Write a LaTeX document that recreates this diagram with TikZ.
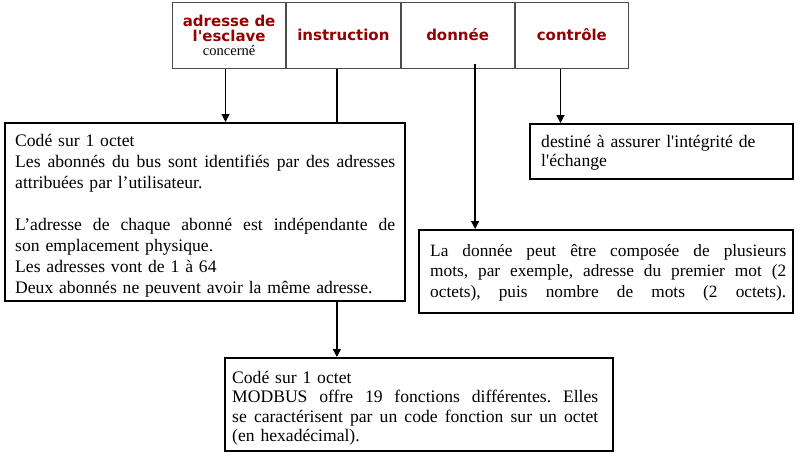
\documentclass[tikz,border=0pt]{standalone}
\usepackage{fontspec}
\usetikzlibrary{arrows.meta}
\newfontfamily\bodyfont{Liberation Serif}
\newfontfamily\labfont{DejaVu Sans}
\definecolor{labred}{RGB}{150,0,0}
\newcommand{\jl}[2]{\leavevmode\hbox to #1{\frenchspacing\spaceskip=\fontdimen2\font plus 1fil minus \fontdimen4\font\relax #2}}
\tikzset{
  cell/.style={draw=black!70, line width=1pt, minimum width=113.25pt, minimum height=66pt,
    anchor=north west, inner sep=0pt, align=center, text=labred,
    font=\labfont\bfseries\fontsize{15}{15}\selectfont},
  box/.style={draw=black, line width=1.6pt, anchor=north west, inner sep=0pt},
  txt/.style={anchor=north west, inner sep=0pt, align=left, text width=#1},
  arr/.style={line width=1.3pt, -{Triangle[length=8pt,width=8pt]}},
  ln/.style={line width=1.3pt}
}
\begin{document}
\begin{tikzpicture}[x=1pt,y=-1pt]
\useasboundingbox (0,0) rectangle (800,456);
% top frame
\node[cell] (c1) at (172,2) {adresse de\\l'esclave\\[-1pt]{\bodyfont\mdseries\fontsize{14.5}{15}\selectfont\color{black}concerné}};
\node[cell] (c2) at (c1.north east) {\raisebox{2pt}{instruction}};
\node[cell] (c3) at (c2.north east) {\raisebox{2pt}{donnée}};
\node[cell] (c4) at (c3.north east) {\raisebox{2pt}{contrôle}};
% texts
\node[txt=380pt, font=\bodyfont\fontsize{17.6}{21}\selectfont] (t1) at (15,146-14.7) {\strut Codé sur 1 octet\\
\jl{380pt}{Les abonnés du bus sont identifiés par des adresses}\\
attribuées par l’utilisateur.\\
\mbox{}\\
\jl{380pt}{L’adresse de chaque abonné est indépendante de}\\
son emplacement physique.\\
Les adresses vont de 1 à 64\\
Deux abonnés ne peuvent avoir la même adresse.};
\node[txt=245pt, font=\bodyfont\fontsize{17.6}{19.5}\selectfont] (t2) at (541,147-13.65) {\strut destiné à assurer l'intégrité de\\
l'échange};
\node[txt=356pt, font=\bodyfont\fontsize{17.3}{20.5}\selectfont] (t3) at (430,256-14.35) {\strut\jl{356pt}{La donnée peut être composée de plusieurs}\\
\jl{356pt}{mots, par exemple, adresse du premier mot (2}\\
\jl{356pt}{octets), puis nombre de mots (2 octets).}};
\node[txt=366pt, font=\bodyfont\fontsize{17.6}{19.5}\selectfont] (t4) at (232,383-13.65) {\strut Codé sur 1 octet\\
\jl{366pt}{MODBUS offre 19 fonctions différentes. Elles}\\
\jl{366pt}{se caractérisent par un code fonction sur un octet}\\
(en hexadécimal).};
% boxes
\node[box, minimum width=400pt, minimum height=178pt] (b1) at (4,122) {};
\node[box, minimum width=263pt, minimum height=55pt] (b2) at (529,123) {};
\node[box, minimum width=374pt, minimum height=83pt] (b3) at (418,229) {};
\node[box, minimum width=388pt, minimum height=93pt] (b4) at (224,357) {};
% connectors
\draw[arr] ([xshift=-3.6pt]c1.south) -- ([xshift=-3.6pt]c1.south |- b1.north);
\draw[ln] ([xshift=-6.5pt]c2.south) -- ([xshift=-6.5pt]c2.south |- b1.north);
\draw[arr] ([xshift=-6.5pt]c2.south |- b1.south) -- ([xshift=-6.5pt]c2.south |- b4.north);
\draw[arr] ([xshift=17.5pt,yshift=5pt]c3.south) -- ([xshift=17.5pt]c3.south |- b3.north);
\draw[arr] ([xshift=-11.4pt]c4.south) -- ([xshift=-11.4pt]c4.south |- b2.north);
\end{tikzpicture}
\end{document}
